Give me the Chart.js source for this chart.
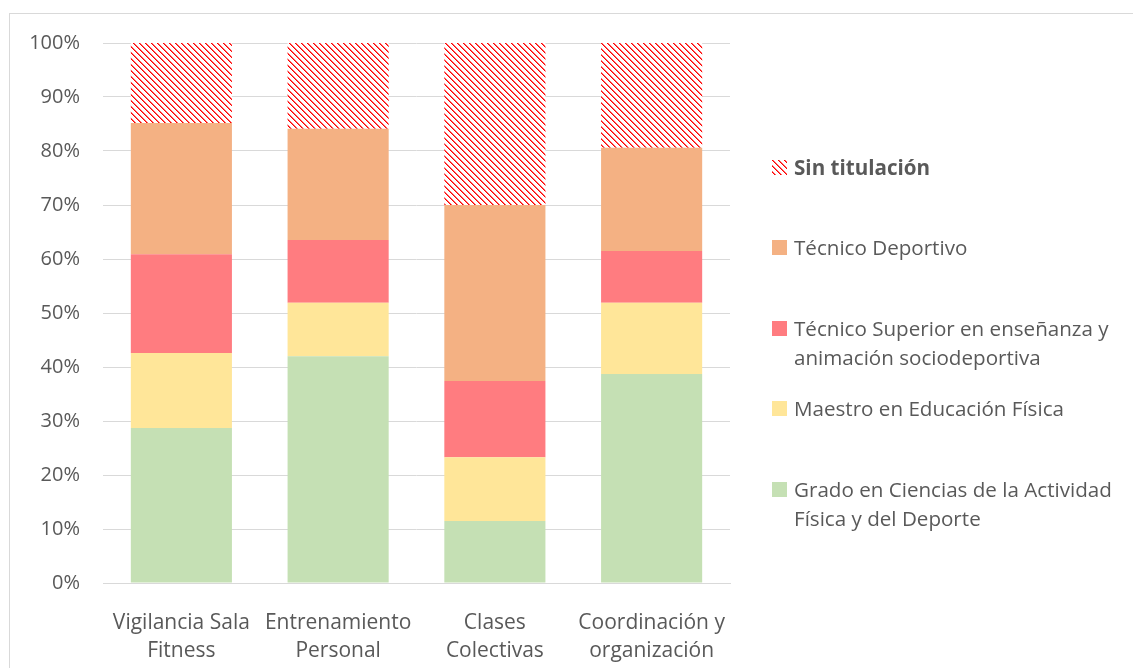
<!DOCTYPE html>
<html>
<head>
<meta charset="utf-8">
<script src="https://cdn.jsdelivr.net/npm/chart.js@4.4.1/dist/chart.umd.min.js"></script>
<style>
  html, body { margin: 0; padding: 0; background: #fff; }
  #wrap { position: relative; width: 1133px; height: 668px; overflow: hidden; font-family: "Open Sans", sans-serif; }
  #frame { position: absolute; left: 9px; top: 13px; width: 1200px; height: 700px; border: 1px solid #D9D9D9; }
  #chartBox { position: absolute; left: 0; top: 0; width: 1133px; height: 668px; }
  #legend { position: absolute; left: 772px; top: 0; }
  .item { position: absolute; left: 0; display: flex; align-items: flex-start; white-space: pre-line;
          color: #595959; font-size: 20.6px; line-height: 29px; width: 360px; }
  .sw { width: 15px; height: 15px; margin-top: 7px; margin-right: 7px; flex: none; }
</style>
</head>
<body>
<div id="wrap">
  <div id="frame"></div>
  <div id="chartBox"><canvas id="barChart"></canvas></div>
  <div id="legend"></div>
</div>
<script>
// categories and series (percent of each bar)
const categories = [['Vigilancia Sala', 'Fitness'], ['Entrenamiento', 'Personal'], ['Clases', 'Colectivas'], ['Coordinación y', 'organización']];
const grado      = [28.7, 42.0, 11.5, 38.7];
const maestro    = [13.9,  9.9, 11.8, 13.2];
const tecSuperior= [18.3, 11.6, 14.1,  9.6];
const tecDeport  = [24.3, 20.6, 32.6, 19.1];
const sinTitulo  = [14.8, 15.9, 30.0, 19.4];
const yTicks = [0, 10, 20, 30, 40, 50, 60, 70, 80, 90, 100];

// red downward diagonal hatch like the office pattern fill
function makeHatch() {
    const c = document.createElement('canvas');
    c.width = 6; c.height = 6;
    const g = c.getContext('2d');
    g.fillStyle = '#fff';
    g.fillRect(0, 0, 6, 6);
    for (let y = 0; y < 6; y++) {
        for (let x = 0; x < 6; x++) {
            const d = ((x - y) % 6 + 6) % 6;
            if (d === 0) { g.fillStyle = '#FF0000'; g.fillRect(x, y, 1, 1); }
            else if (d === 1) { g.fillStyle = '#FF6666'; g.fillRect(x, y, 1, 1); }
        }
    }
    return c;
}
const hatchTile = makeHatch();
const hatch = document.createElement('canvas').getContext('2d').createPattern(hatchTile, 'repeat');

const datasets = [
    { label: 'Grado en Ciencias de la Actividad\nFísica y del Deporte', data: grado, backgroundColor: '#C5E0B4' },
    { label: 'Maestro en Educación Física', data: maestro, backgroundColor: '#FFE699' },
    { label: 'Técnico Superior en enseñanza y\nanimación sociodeportiva', data: tecSuperior, backgroundColor: '#FF7C80' },
    { label: 'Técnico Deportivo', data: tecDeport, backgroundColor: '#F4B183' },
    { label: 'Sin titulación', data: sinTitulo, backgroundColor: hatch, bold: true }
];
datasets.forEach(d => { d.barPercentage = 0.645; d.categoryPercentage = 1; d.borderWidth = 0; });

const ctx = document.getElementById('barChart').getContext('2d');
const barChart = new Chart(ctx, {
    type: 'bar',
    data: { labels: categories, datasets: datasets },
    options: {
        responsive: true,
        maintainAspectRatio: false,
        animation: false,
        layout: { padding: { left: 10, right: 403, top: 43, bottom: 0 } },
        plugins: { legend: { display: false }, tooltip: { enabled: false } },
        scales: {
            x: {
                stacked: true,
                grid: { display: false },
                border: { display: true, color: '#D9D9D9', width: 1 },
                ticks: { color: '#595959', font: { family: 'Open Sans', size: 21, lineHeight: 1.333 }, padding: 18, maxRotation: 0 },
                afterFit: s => { s.height = 85; }
            },
            y: {
                stacked: true,
                min: 0, max: 100,
                afterBuildTicks: s => { s.ticks = yTicks.map(v => ({ value: v })); },
                grid: { color: '#D9D9D9', lineWidth: 1, drawTicks: false },
                border: { display: false },
                ticks: { color: '#595959', font: { family: 'Open Sans', size: 20 }, padding: 23, callback: v => v + '%' },
                afterFit: s => { s.width = 93; }
            }
        }
    }
});

// legend on the right, top item is the last dataset
const legend = document.getElementById('legend');
datasets.slice().reverse().forEach((d, i) => {
    const item = document.createElement('div');
    item.className = 'item';
    item.style.top = (152.5 + i * 80.5) + 'px';
    const sw = document.createElement('canvas');
    sw.className = 'sw';
    sw.width = 15; sw.height = 15;
    const sctx = sw.getContext('2d');
    sctx.fillStyle = d.bold ? sctx.createPattern(hatchTile, 'repeat') : d.backgroundColor;
    sctx.fillRect(0, 0, 15, 15);
    const txt = document.createElement('span');
    txt.textContent = d.label;
    if (d.bold) txt.style.fontWeight = 'bold';
    item.appendChild(sw);
    item.appendChild(txt);
    legend.appendChild(item);
});
</script>
</body>
</html>
